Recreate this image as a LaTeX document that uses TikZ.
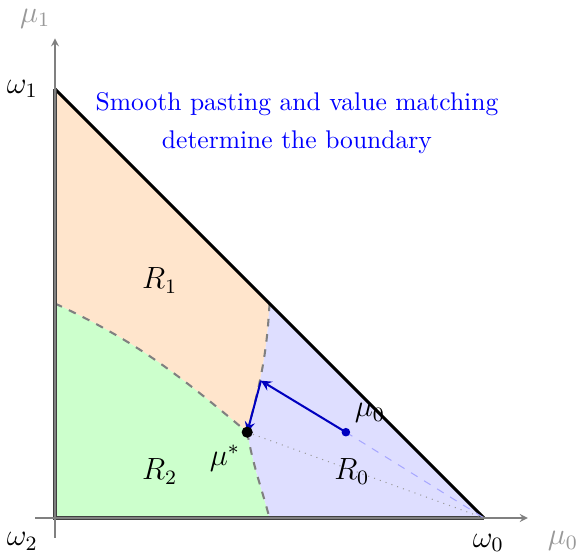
\documentclass[tikz,border=0pt]{standalone}
\usepackage{amsmath, amssymb}
\usetikzlibrary{arrows.meta,calc,positioning}

\begin{document}
\begin{tikzpicture}[>=stealth, x=1.18cm, y=1.18cm]
\useasboundingbox (-0.641,-0.408) rectangle (6.072,6.037);
% corners of the simplex
\coordinate (wtwo) at (0,0);
\coordinate (wzero) at (5,0);
\coordinate (wone) at (0,5);
\coordinate (left) at (0,2.5);
\coordinate (top) at (2.5,2.5);
\coordinate (bot) at (2.5,0);
\coordinate (mustar) at (2.24,1.0);
\coordinate (muzero) at (3.39,1.0);
\coordinate (kink) at (2.40,1.60);

% regions
\fill[orange!20] (left) -- (wone) -- (top) to[out=-93,in=75] (mustar)
  to[out=140,in=-25] (left) -- cycle;
\fill[green!20] (wtwo) -- (left) to[out=-25,in=140] (mustar)
  to[out=-80,in=105] (bot) -- cycle;
\fill[blue!13] (bot) -- (wzero) -- (top) to[out=-93,in=75] (mustar)
  to[out=-80,in=105] (bot) -- cycle;

% boundaries
\draw[gray, dashed, thick] (left) to[out=-25,in=140] (mustar);
\draw[gray, dashed, thick] (top) to[out=-93,in=75] (mustar);
\draw[gray, dashed, thick] (mustar) to[out=-80,in=105] (bot);

% edges
\draw[very thick] (wone) -- (wzero);
\draw[very thick, black!75] (wzero) -- (wtwo) -- (wone);

% axes
\draw[->, gray] (-0.23,0) -- (5.51,0) coordinate (xend);
\draw[->, gray] (0,-0.23) -- (0,5.59) coordinate (yend);

% paths
\draw[gray!80, dotted] (mustar) -- (wzero);
\draw[blue!35, dashed] (muzero) -- (wzero);
\draw[->, thick, blue!75!black] (muzero) -- (kink);
\draw[->, thick, blue!75!black] (kink) -- (mustar);
\fill[blue!75!black] (muzero) circle (0.05);
\fill (mustar) circle (0.065);

% labels
\node[gray!80] (lmuone) at (-0.23,5.82) {\large $\mu_1$};
\node[gray!80] (lmuzero) at (5.92,-0.27) {\large $\mu_0$};
\node (lwone) at (-0.38,5) {\large $\omega_1$};
\node (lwtwo) at (-0.38,-0.27) {\large $\omega_2$};
\node (lwzero) at (5.05,-0.29) {\large $\omega_0$};
\node (rone) at (1.22,2.77) {\large $R_1$};
\node (rtwo) at (1.22,0.54) {\large $R_2$};
\node (rzero) at (3.46,0.54) {\large $R_0$};
\node (lmustar) at (1.98,0.70) {\large $\mu^*$};
\node (lmu) at (3.67,1.22) {\large $\mu_0$};
\node[blue, align=center] (title) at (2.82,4.60) {Smooth pasting and value matching\\[3pt] determine the boundary};
\end{tikzpicture}
\end{document}
